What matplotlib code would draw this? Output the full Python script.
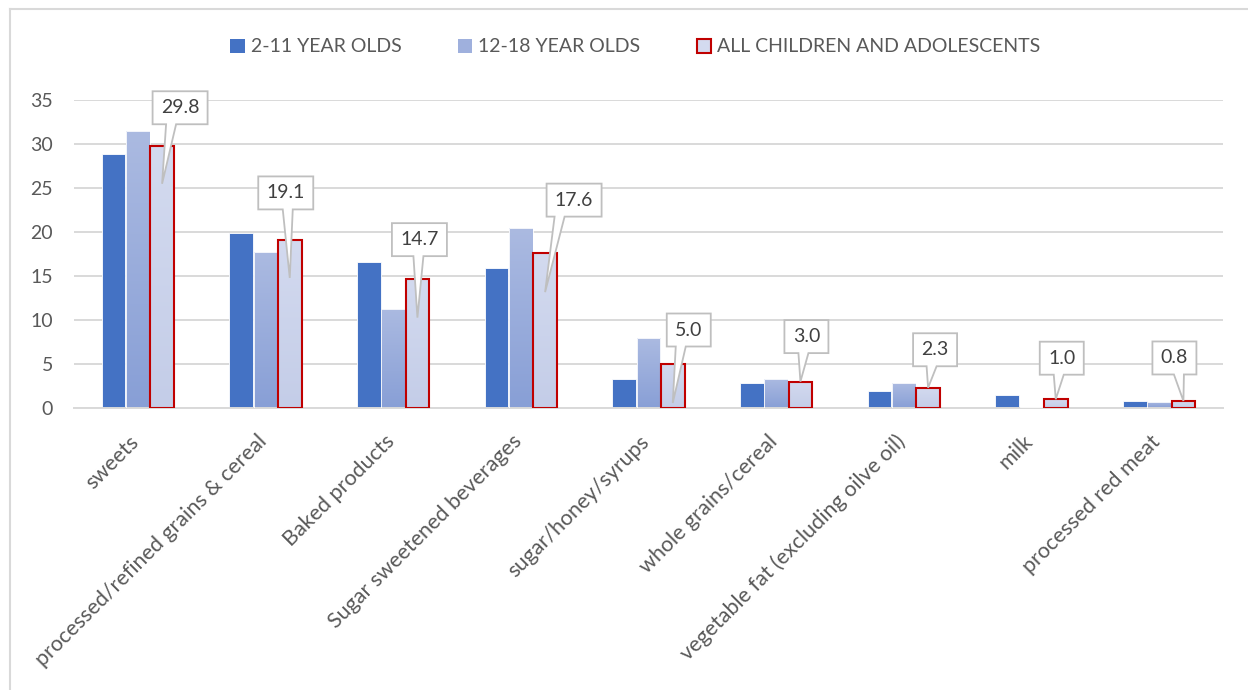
import numpy as np
import matplotlib
matplotlib.use("Agg")
import matplotlib.pyplot as plt
from matplotlib.patches import Polygon, Patch
from matplotlib.lines import Line2D
from matplotlib.transforms import IdentityTransform, ScaledTranslation

categories = [
    "sweets",
    "processed/refined grains & cereal",
    "Baked products",
    "Sugar sweetened beverages",
    "sugar/honey/syrups",
    "whole grains/cereal",
    "vegetable fat (excluding oilve oil)",
    "milk",
    "processed red meat",
]
series_names = ["2-11 YEAR OLDS", "12-18 YEAR OLDS", "ALL CHILDREN AND ADOLESCENTS"]
young = [28.9, 19.9, 16.6, 15.9, 3.3, 2.8, 1.9, 1.5, 0.8]
teens = [31.5, 17.7, 11.3, 20.5, 7.9, 3.3, 2.8, 0.1, 0.7]
all_kids = [29.8, 19.1, 14.7, 17.6, 5.0, 3.0, 2.3, 1.0, 0.8]
y_ticks = [0, 5, 10, 15, 20, 25, 30, 35]

# callout placement, in pixels relative to the top of each "all" bar
box_dx = [18, -4, 2, 29, 16, 6, 7, 6, -9]
box_dy = [38, 47, 39, 53, 34, 45, 38, 41, 43]
tip_drop = [38, 38, 39, 39, 39, 0, 0, 0, 0]

BLUE = "#4472c4"
TEEN_TOP, TEEN_BOT = "#abbae1", "#889fd6"
ALL_TOP, ALL_BOT = "#d3daef", "#c4cde8"
RED = "#c00000"
GRID = "#d9d9d9"
TXT = "#595959"

plt.rcParams["font.family"] = ["Lato", "DejaVu Sans"]

W, H = 1248, 690
fig = plt.figure(figsize=(W / 100, H / 100), dpi=100)
ax = fig.add_axes([74 / W, 1 - 408 / H, (1223 - 74) / W, (408 - 100) / H])

x = np.arange(len(categories))
bw, step = 0.185, 0.19
b1 = ax.bar(x - step, young, bw, color=BLUE, edgecolor="white", linewidth=0.6, zorder=2)
b2 = ax.bar(x, teens, bw, color="none", edgecolor="white", linewidth=0.6, zorder=3)
b3 = ax.bar(x + step, all_kids, bw, color="none", edgecolor=RED, linewidth=1.5, zorder=4)


def fill_gradient(bars, top, bottom, z):
    c_top = np.array(matplotlib.colors.to_rgb(top))
    c_bot = np.array(matplotlib.colors.to_rgb(bottom))
    t = np.linspace(0, 1, 64)[:, None]
    img = (c_top * (1 - t) + c_bot * t)[:, None, :]
    for r in bars:
        x0, h, w = r.get_x(), r.get_height(), r.get_width()
        im = ax.imshow(img, extent=(x0, x0 + w, 0, h), aspect="auto",
                       interpolation="bilinear", zorder=z)
        im.set_clip_path(r)


fill_gradient(b2, TEEN_TOP, TEEN_BOT, 2.5)
fill_gradient(b3, ALL_TOP, ALL_BOT, 3.5)

ax.set_xlim(-0.5, len(categories) - 0.5)
ax.set_ylim(0, 35)
ax.set_yticks(y_ticks)
ax.yaxis.grid(True, color=GRID, linewidth=1.4, zorder=0)
ax.set_axisbelow(True)
for s in ["top", "right", "left"]:
    ax.spines[s].set_visible(False)
ax.spines["bottom"].set_color(GRID)
ax.spines["bottom"].set_linewidth(1.4)
ax.tick_params(axis="y", length=0, pad=15, labelsize=14, labelcolor=TXT)
ax.tick_params(axis="x", length=0, pad=22, labelsize=15.5, labelcolor=TXT)
ax.set_xticks(x)
ax.set_xticklabels(categories, rotation=45, ha="right", va="center",
                   rotation_mode="anchor")
shift = ScaledTranslation(-2 / 100, 0, fig.dpi_scale_trans)
for lab in ax.get_xticklabels():
    lab.set_transform(lab.get_transform() + shift)

# legend across the top
handles = [
    Patch(facecolor=BLUE, edgecolor="none"),
    Patch(facecolor="#9fb0dd", edgecolor="none"),
    Patch(facecolor=ALL_TOP, edgecolor=RED, linewidth=1.5),
]
fig.legend(handles, series_names, loc="center", bbox_to_anchor=(0.509, 1 - 47 / H),
           ncol=3, frameon=False, fontsize=14, labelcolor=TXT,
           handlelength=0.75, handleheight=0.75, handletextpad=0.3,
           columnspacing=2.9)

# data callouts on the "all" series
fig.canvas.draw()
ident = IdentityTransform()
bh = 33
for i, r in enumerate(b3):
    bx, by = ax.transData.transform((r.get_x() + r.get_width() / 2, r.get_height()))
    cx, cy = bx + box_dx[i], by + box_dy[i]
    label = f"{all_kids[i]:.1f}"
    bwid = 55 if len(label) > 3 else 44
    left, right = cx - bwid / 2, cx + bwid / 2
    bot, top = cy - bh / 2, cy + bh / 2
    tip = (bx, by - tip_drop[i])
    mid = (cx + tip[0]) / 2
    w0 = max(left + 3, mid - 5)
    w1 = min(right - 3, w0 + 10)
    verts = [(left, bot), (w0, bot), tip, (w1, bot), (right, bot),
             (right, top), (left, top)]
    fig.add_artist(Polygon(verts, closed=True, facecolor="white", edgecolor="#bfbfbf",
                           linewidth=1.3, transform=ident, zorder=5))
    fig.text(cx, cy, label, transform=ident, ha="center", va="center",
             fontsize=14, color="#404040", zorder=6)

# chart area border
fig.add_artist(Line2D([10, 10], [0, H - 9], color=GRID, linewidth=1.5, transform=ident))
fig.add_artist(Line2D([10, W], [H - 9, H - 9], color=GRID, linewidth=1.5, transform=ident))

fig.savefig("out.png", dpi=100)
